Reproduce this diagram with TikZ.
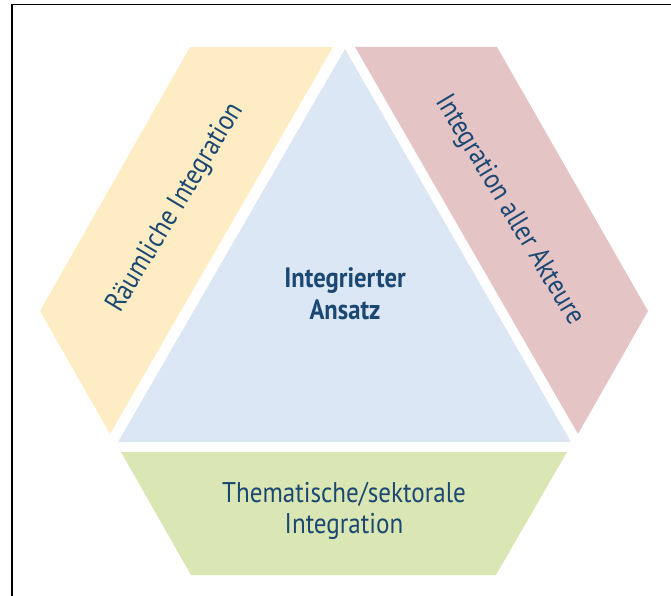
\documentclass[tikz,border=0pt]{standalone}
\usepackage{fontspec}
\setmainfont{PT Sans}[FakeStretch=0.88]
\definecolor{gelb}{RGB}{254,237,196}
\definecolor{rosa}{RGB}{229,196,198}
\definecolor{hellblau}{RGB}{219,231,244}
\definecolor{gruen}{RGB}{218,230,179}
\definecolor{textblau}{RGB}{27,72,115}
\begin{document}
\begin{tikzpicture}[
      x=1pt, y=-1pt,
      schrift/.style={text=textblau, align=center,
        font=\fontsize{28.5}{30.5}\selectfont},
      kernschrift/.style={schrift,
        font=\fontsize{28}{32}\selectfont\bfseries},
      ]
      \useasboundingbox (0,0) rectangle (671,596);
      \draw[line width=1.6pt] (11.7,596) -- (11.7,4.5) -- (671,4.5);

      % die vier Felder
      \fill[gelb] (190,47) -- (333,47) -- (110,434) -- (40,311) -- cycle;
      \fill[rosa] (355,47) -- (497,47) -- (648,311) -- (578,434) -- cycle;
      \fill[hellblau] (345,49) -- (571,442) -- (118,442) -- cycle;
      \fill[gruen] (121,452) -- (567,452) -- (496,575) -- (191,575) -- cycle;

      \node[kernschrift] (ansatz) at (345,294) {Integrierter\\Ansatz};
      \node[schrift, rotate=59] (raum) at (176,208) {Räumliche Integration};
      \node[schrift, rotate=-59] (akteure) at (509,210) {Integration aller Akteure};
      \node[schrift] (thema) at (344,511) {Thematische/sektorale\\Integration};
\end{tikzpicture}
\end{document}
